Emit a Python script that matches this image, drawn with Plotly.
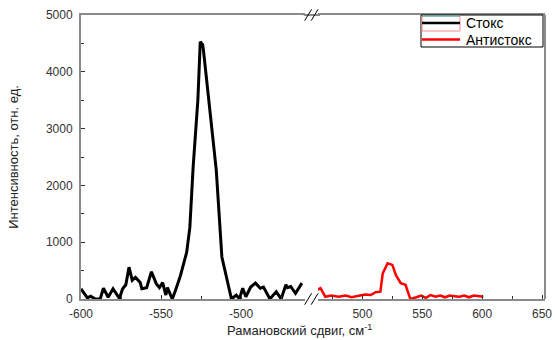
import plotly.graph_objects as go

stokes_x = [-600, -596, -594, -591, -588, -586, -583, -580, -576, -574, -572, -570, -568, -566,
            -563, -562, -559, -556, -553, -551, -549, -547, -546, -543, -541, -538, -534, -532,
            -530, -527, -525.5, -524, -523.5, -520, -515.5, -512, -506, -503, -501, -499, -497,
            -494, -491, -488, -486, -482, -478, -475, -472, -471, -469, -466, -462]
stokes_y = [180, 20, 50, 0, 0, 190, 30, 180, 10, 180, 250, 560, 330, 380,
            290, 180, 200, 480, 270, 200, 290, 70, 200, 0, 150, 400, 820, 1260,
            2300, 3500, 4530, 4480, 4380, 3400, 2270, 740, 0, 70, 0, 190, 40,
            210, 280, 190, 210, 0, 130, 0, 250, 200, 220, 100, 280]

anti_x = [462, 465, 469, 474, 480, 486, 491, 497, 502, 507, 511, 515, 517, 521, 525, 528, 532,
          536, 540, 545, 549, 553, 557, 561, 565, 569, 573, 577, 581, 585, 589, 593, 597, 601]
anti_y = [160, 190, 40, 60, 40, 60, 30, 50, 80, 70, 120, 130, 450, 630, 600, 420, 280,
          250, 0, 30, 60, 20, 70, 40, 60, 30, 60, 50, 40, 60, 30, 60, 50, 40]

left_ticks = [-600, -550, -500]
right_ticks = [500, 550, 600, 650]
y_ticks = [0, 1000, 2000, 3000, 4000, 5000]
series_names = ["Стокс", "Антистокс"]
series_colors = ["black", "red"]

GREY = "#8a8a8a"
tickfont = dict(family="Arial", size=12, color="#333333")

fig = go.Figure()
fig.add_trace(go.Scatter(x=stokes_x, y=stokes_y, mode="lines", name=series_names[0],
                         line=dict(color=series_colors[0], width=3), xaxis="x", yaxis="y",
                         showlegend=False))
fig.add_trace(go.Scatter(x=anti_x, y=anti_y, mode="lines", name=series_names[1],
                         line=dict(color=series_colors[1], width=2.5), xaxis="x2", yaxis="y",
                         showlegend=False))

common_x = dict(showline=True, linecolor=GREY, linewidth=2, mirror=True, ticks="inside",
                ticklen=4, tickcolor="#333", showgrid=False, zeroline=False, tickfont=tickfont,
                automargin=False, ticklabelstandoff=3,
                minor=dict(ticks="inside", ticklen=3, dtick=25, tickcolor="#333"))

fig.update_layout(
    width=555, height=340, margin=dict(l=81, r=10, t=15, b=41),
    paper_bgcolor="white", plot_bgcolor="white",
    xaxis=dict(domain=[0, 0.483], range=[-600, -460], tickvals=left_ticks,
               ticktext=[str(v) for v in left_ticks], **common_x),
    xaxis2=dict(domain=[0.511, 1], range=[463, 652.5], tickvals=right_ticks,
                ticktext=[str(v) for v in right_ticks], anchor="y", **common_x),
    yaxis=dict(range=[0, 5000], tickvals=y_ticks, showline=True, linecolor=GREY, linewidth=2,
               mirror=False, ticks="inside", ticklen=4, tickcolor="#333", showgrid=False,
               zeroline=False, tickfont=tickfont, automargin=False, ticklabelstandoff=4,
               minor=dict(ticks="inside", ticklen=3, dtick=500, tickcolor="#333"),
               title=dict(text="Интенсивность, отн. ед.", font=dict(family="Arial", size=13, color="#222"),
                          standoff=24)),
    showlegend=False,
)

fig.add_annotation(text="Рамановский сдвиг, см<sup>-1</sup>", xref="paper", yref="paper",
                   x=0.47, y=-0.11, yanchor="middle", showarrow=False,
                   font=dict(family="Arial", size=13, color="#222"))

# right frame line
fig.add_shape(type="line", xref="paper", yref="paper", x0=1, x1=1, y0=0, y1=1,
              line=dict(color=GREY, width=2))
# continuous top line across the break
fig.add_shape(type="line", xref="paper", yref="paper", x0=0.48, x1=0.515, y0=1, y1=1,
              line=dict(color=GREY, width=2))
# break marks
for yb in (0, 1):
    for dx in (0.0, 0.014):
        fig.add_shape(type="line", xref="paper", yref="paper",
                      x0=0.482 + dx, x1=0.497 + dx, y0=yb - 0.02, y1=yb + 0.02,
                      line=dict(color="black", width=1))

# legend box (drawn manually to match compact layout)
def px(x):
    return (x - 81) / 464.0

def py(y):
    return (299 - y) / 284.0

fig.add_shape(type="rect", xref="paper", yref="paper", x0=px(421), x1=px(543), y0=py(47), y1=py(15),
              line=dict(color="black", width=1), fillcolor="white", layer="above")
fig.add_shape(type="rect", xref="paper", yref="paper", x0=px(422), x1=px(460), y0=py(31), y1=py(16),
              line=dict(color="#ff8a8a", width=1), layer="above")
fig.add_shape(type="line", xref="paper", yref="paper", x0=px(422), x1=px(460), y0=py(16), y1=py(16),
              line=dict(color="#20b2aa", width=1), layer="above")
for i, (name, col) in enumerate(zip(series_names, series_colors)):
    yy = 23 + 16.5 * i
    fig.add_shape(type="line", xref="paper", yref="paper", x0=px(422), x1=px(460), y0=py(yy), y1=py(yy),
                  line=dict(color=col, width=2.5), layer="above")
    fig.add_annotation(text=name, xref="paper", yref="paper", x=px(464), y=py(yy),
                       xanchor="left", yanchor="middle", showarrow=False,
                       font=dict(family="Arial", size=14, color="black"))

fig.write_html("out.html")
